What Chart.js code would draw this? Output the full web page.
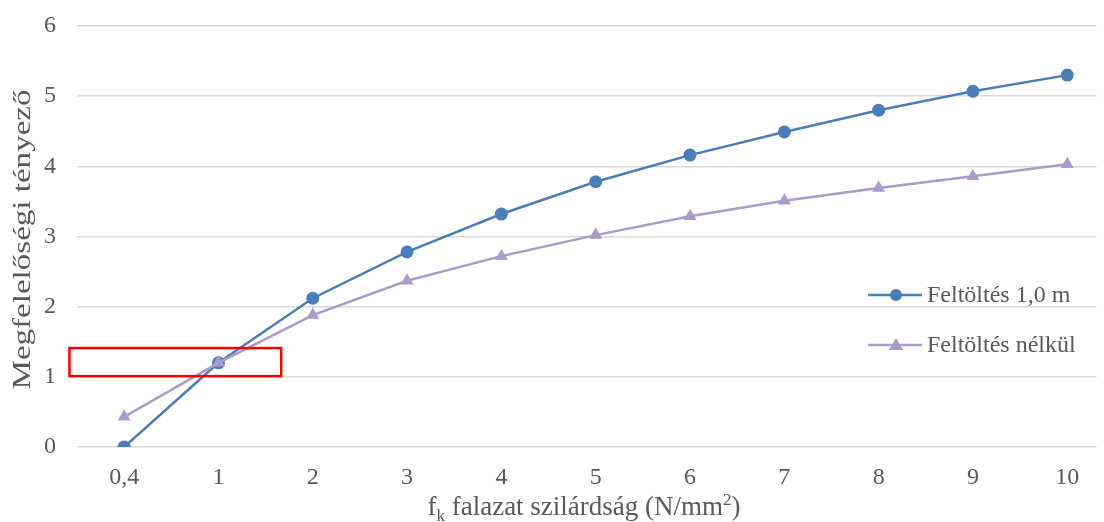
<!DOCTYPE html>
<html>
<head>
<meta charset="utf-8">
<script src="https://cdn.jsdelivr.net/npm/chart.js@4/dist/chart.umd.min.js"></script>
<style>
  html, body { margin: 0; padding: 0; background: #fff; }
  #wrap { width: 1104px; height: 522px; }
</style>
</head>
<body>
<div id="wrap"><canvas id="c" width="1104" height="522"></canvas></div>
<script>
// Compressive strength of masonry (N/mm²)
const categories = ['0,4', '1', '2', '3', '4', '5', '6', '7', '8', '9', '10'];
// Safety factor with 1.0 m backfill
const withFill = [0.0, 1.2, 2.12, 2.78, 3.32, 3.78, 4.16, 4.49, 4.8, 5.07, 5.3];
// Safety factor without backfill
const withoutFill = [0.43, 1.2, 1.88, 2.37, 2.72, 3.02, 3.29, 3.51, 3.69, 3.86, 4.03];
const yTicks = [0, 1, 2, 3, 4, 5, 6];
const seriesNames = ['Feltöltés 1,0 m', 'Feltöltés nélkül'];
const yTitle = 'Megfelelőségi tényező';

// Highlight box, in data units (category index / y value)
const box = { x0: -0.58, x1: 1.665, y0: 1.01, y1: 1.41 };

const FONT = "'Liberation Serif', 'Times New Roman', serif";
const TEXT = '#595959';
const BLUE = '#4A7EBB';
const PURPLE = '#AB9BC9';

const toPts = arr => arr.map((v, i) => ({ x: i, y: v }));

const highlightBox = {
  id: 'highlightBox',
  afterDatasetsDraw(chart) {
    const { ctx, scales: { x, y } } = chart;
    const l = x.getPixelForValue(box.x0), r = x.getPixelForValue(box.x1);
    const t = y.getPixelForValue(box.y1), b = y.getPixelForValue(box.y0);
    ctx.save();
    ctx.strokeStyle = '#FF0000';
    ctx.lineWidth = 2.5;
    ctx.strokeRect(l, t, r - l, b - t);
    ctx.restore();
  }
};

const insideLegend = {
  id: 'insideLegend',
  afterDraw(chart) {
    const { ctx } = chart;
    const rows = [
      { name: seriesNames[0], color: BLUE, shape: 'circle', y: 295 },
      { name: seriesNames[1], color: PURPLE, shape: 'triangle', y: 345 }
    ];
    ctx.save();
    rows.forEach(r => {
      ctx.strokeStyle = r.color;
      ctx.lineWidth = 2.5;
      ctx.beginPath();
      ctx.moveTo(868, r.y);
      ctx.lineTo(922, r.y);
      ctx.stroke();
      ctx.fillStyle = r.color;
      ctx.beginPath();
      if (r.shape === 'circle') {
        ctx.arc(896, r.y, 6, 0, Math.PI * 2);
      } else {
        ctx.moveTo(896, r.y - 7);
        ctx.lineTo(903, r.y + 5);
        ctx.lineTo(889, r.y + 5);
        ctx.closePath();
      }
      ctx.fill();
      ctx.fillStyle = TEXT;
      ctx.font = '24px ' + FONT;
      ctx.textBaseline = 'middle';
      ctx.textAlign = 'left';
      ctx.fillText(r.name, 927, r.y + 1);
    });
    ctx.restore();
  }
};

// Rotated y axis title, stretched slightly along its length
const yAxisTitle = {
  id: 'yAxisTitle',
  afterDraw(chart) {
    const { ctx, chartArea } = chart;
    ctx.save();
    ctx.font = '26px ' + FONT;
    const w = ctx.measureText(yTitle).width;
    const sx = 300 / w;
    ctx.translate(23, (chartArea.top + chartArea.bottom) / 2 + 3);
    ctx.rotate(-Math.PI / 2);
    ctx.scale(sx, 1);
    ctx.fillStyle = TEXT;
    ctx.textAlign = 'center';
    ctx.textBaseline = 'middle';
    ctx.fillText(yTitle, 0, 0);
    ctx.restore();
  }
};

// x axis title with subscript k and superscript 2
const xTitle = {
  id: 'xTitle',
  afterDraw(chart) {
    const { ctx } = chart;
    const parts = [
      { t: 'f', size: 27, dy: 0 },
      { t: 'k', size: 17, dy: 6 },
      { t: ' falazat szilárdság (N/mm', size: 27, dy: 0 },
      { t: '2', size: 17, dy: -10 },
      { t: ')', size: 27, dy: 0 }
    ];
    ctx.save();
    let w = 0;
    parts.forEach(p => { ctx.font = p.size + 'px ' + FONT; p.w = ctx.measureText(p.t).width; w += p.w; });
    const cx = 584;
    let x = cx - w / 2;
    const base = 515;
    ctx.fillStyle = TEXT;
    ctx.textBaseline = 'alphabetic';
    ctx.textAlign = 'left';
    parts.forEach(p => {
      ctx.font = p.size + 'px ' + FONT;
      ctx.fillText(p.t, x, base + p.dy);
      x += p.w;
    });
    ctx.restore();
  }
};

new Chart(document.getElementById('c'), {
  type: 'line',
  data: {
    datasets: [
      {
        label: seriesNames[0],
        data: toPts(withFill),
        borderColor: BLUE,
        backgroundColor: BLUE,
        borderWidth: 2.5,
        pointStyle: 'circle',
        pointRadius: 6.5,
        pointBorderWidth: 0,
        tension: 0,
        order: 2
      },
      {
        label: seriesNames[1],
        data: toPts(withoutFill),
        borderColor: PURPLE,
        backgroundColor: PURPLE,
        borderWidth: 2.5,
        pointStyle: 'triangle',
        pointRadius: 7.5,
        pointBorderWidth: 0,
        tension: 0,
        order: 1
      }
    ]
  },
  options: {
    responsive: false,
    animation: false,
    layout: { padding: { top: 26, right: 0, left: 0, bottom: 0 } },
    plugins: { legend: { display: false }, tooltip: { enabled: false } },
    scales: {
      x: {
        type: 'linear',
        min: -0.5,
        max: 10.31,
        afterBuildTicks(axis) { axis.ticks = categories.map((c, i) => ({ value: i })); },
        afterFit(axis) {
          axis.height = 75;
          axis.paddingLeft = 0;
          axis.paddingRight = 0;
        },
        grid: { display: false, drawTicks: false },
        border: { display: false },
        ticks: {
          callback: (v) => categories[v],
          color: TEXT,
          font: { family: FONT, size: 24 },
          padding: 16,
          maxRotation: 0,
          autoSkip: false
        }
      },
      y: {
        min: 0,
        max: 6,
        afterBuildTicks(axis) { axis.ticks = yTicks.map(v => ({ value: v })); },
        afterFit(axis) {
          axis.width = 77;
          axis.paddingTop = 0;
          axis.paddingBottom = 0;
        },
        grid: { color: '#D9D9D9', lineWidth: 1.5, drawTicks: false },
        border: { display: false },
        ticks: {
          color: TEXT,
          font: { family: FONT, size: 24 },
          padding: 21
        }
      }
    }
  },
  plugins: [highlightBox, insideLegend, yAxisTitle, xTitle]
});
</script>
</body>
</html>
